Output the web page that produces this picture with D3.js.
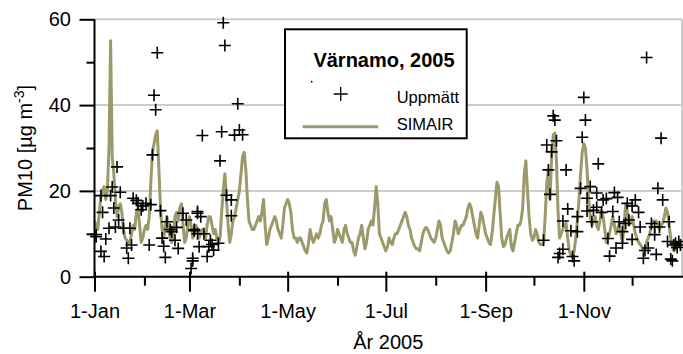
<!DOCTYPE html>
<html>
<head>
<meta charset="utf-8">
<script src="https://cdn.jsdelivr.net/npm/d3@7/dist/d3.min.js"></script>
<style>
  html, body { margin: 0; padding: 0; background: #fff; }
  svg { display: block; font-family: Arial, "Liberation Sans", sans-serif; }
</style>
</head>
<body>
<svg id="chart" width="683" height="354"></svg>
<script>
// ---------- DATA ----------
const chartTitle = "Värnamo, 2005";
const seriesNames = ["Uppmätt", "SIMAIR"];
const yTickValues = [0, 20, 40, 60];
const yMinorTicks = [10, 30, 50];
const xMajorMonths = [0, 2, 4, 6, 8, 10];      // 1-Jan, 1-Mar, ...
const xMinorMonths = [1, 3, 5, 7, 9, 11];
const xTickFormat = "%-d-%b";
const xTitle = "År 2005";

// SIMAIR modelled daily PM10, day 0 = 1 Jan 2005 (365 values)
const simairValues = [
  13,12,11,15,19,20,21,18,20,30,55,28,24,18,14,16,17,15,11,9,
  8.5,8,8,10,12,11,15,16,12,8,9,11,12,11,14,22,29,31,33,34,
  25,16,11,9,12,14,11,9,8,10,14,15,13,16,17,12,8,9,12,14,
  12,9,10,12,11,9,10,11,10,9,12,14,14,12,10,11,9,8,9,15,
  20,24,18,12,8,10,13,14,16,18,20,24,28,29,25,18,13,12,11,11,
  12,13,14,13,15,18,12,7.5,9,11,12,13,14,13,11,10,9,12,16,17,
  18,17,15,11,9,9,8,9,9,8,7,6,5.5,8,11,9,8,9,10,9,
  10,12,13,17,18,15,13,14,11,8,9,11,10,9,8,11,12,10,9,8,
  8,6,5,7,9,10,12,9,6.5,8,11,12,13,12,16,21,17,10,9,8,
  7,6,7,9,8,7.5,9,10,10,11,12,13,14,15,14,12,11,9,8,7,
  6.5,6.5,6,8,10,11,11.5,11,10,9,8.5,8,9,11,13,12,9,8,7,6,
  5.5,6,8,10,13,12,10,11,12,12,13,14,16,17,16,14,12,10,9,12,
  15,14,12,10,9,8,7.5,10,14,18,22,21,15,9,7,7.5,9,10,11,7,
  6,8,10,12,12,13,16,24,27,20,14,10,8.5,9,11,10,8,7.5,7.5,8,
  14,22,25,18,28,33,33.5,27,15,9,10,11,12,12.5,9,6,5,4.5,6,9,
  13,18,24,29,31,30,25,18,14,12,13,14,12,11,13,15.5,14,11,8,9,
  10,12,14,12,10,11,12.5,10,8,12,17,15,12,13,14,12,10,9,8,7.5,
  7,6,6.5,8,9,10,12,13,13,13,12,11,12,12.5,14,16,15,12,9,7,
  6,6.5,7.5,8,7
];

// Measured (Uppmätt) PM10: day of year and value
const measuredDays = [
  1,1,4,6,7,9,14,11,4,10,16,12,5,15,13,18,22,20,23,21,
  24,26,27,29,30,32,35,34,41,36,38,37,39,42,43,45,47,48,50,52,
  51,55,57,62,64,44,60,61,
  80,81,89,67,79,87,90,92,78,82,85,85,64,66,62,64,68,61,65,70,
  71,72,73,74,77,
  343,304,285,286,305,303,352,281,284,287,313,282,293,350,302,308,283,353,306,312,
  323,325,316,318,336,294,306,310,312,315,322,331,334,338,291,300,309,326,330,332,
  346,357,296,300,328,339,348,351,279,319,334,328,356,363,348,324,344,349,342,291,
  289,288,297,298,320,341,358,359,360,361,364,362
];
const measuredValues = [
  9.3,9.8,5.9,4.7,8.8,11.3,25.6,20.9,18.9,18.9,19.7,16.0,15.0,13.2,11.6,11.3,11.3,6.7,7.4,4.3,
  18.3,17.8,17.1,15.6,16.5,17.1,16.8,7.4,15.4,28.4,38.9,42.3,52.2,9.0,7.1,12.8,11.0,10.5,8.5,6.6,
  11.5,14.8,13.2,11.0,14.8,4.5,1.9,3.7,
  59.2,53.9,40.3,32.9,33.8,33.0,34.2,33.1,27.0,19.0,17.9,14.2,15.2,14.0,10.7,10.0,10.0,4.3,7.0,4.7,
  7.0,8.5,7.5,6.2,7.8,
  51.1,41.8,37.5,36.5,36.5,32.5,32.3,30.7,29.1,31.7,26.3,24.9,24.9,20.6,20.6,21.0,19.2,17.9,18.3,19.5,
  19.6,18.5,17.9,18.2,17.9,15.8,15.3,15.5,16.2,15.0,15.2,17.1,16.5,15.0,13.0,14.0,12.8,12.8,12.4,13.2,
  12.4,12.8,10.7,10.5,10.5,11.6,11.6,11.6,8.5,8.9,8.7,7.8,8.2,8.2,9.8,6.7,6.7,5.2,6.1,6.4,
  5.4,4.5,4.7,3.7,4.8,4.3,4.1,3.7,7.4,7.8,7.4,6.8
];

// ---------- CHART ----------
(function () {
const svg = d3.select("#chart");
const pLeft = 94.5, pRight = 682, pTop = 19.3, pBottom = 276.7;
const start = new Date(2005, 0, 1), end = new Date(2006, 0, 1);
const dayDate = d => d3.timeDay.offset(start, d);

const x = d3.scaleTime().domain([start, end]).range([pLeft, pRight]);
const y = d3.scaleLinear().domain([0, 60]).range([pBottom, pTop]);

const gridColor = "#cdcdcd";
const lineColor = "#9c9a6a";
const fontFam = "Arial, 'Liberation Sans', sans-serif";

// gridlines
svg.append("g").selectAll("line").data([20, 40, 60]).join("line")
  .attr("x1", pLeft).attr("x2", pRight)
  .attr("y1", d => y(d)).attr("y2", d => y(d))
  .attr("stroke", gridColor).attr("stroke-width", 2);
// right frame
svg.append("line").attr("x1", pRight).attr("x2", pRight)
  .attr("y1", pTop).attr("y2", pBottom)
  .attr("stroke", gridColor).attr("stroke-width", 2);

// SIMAIR line
const line = d3.line()
  .x((d, i) => x(dayDate(i)))
  .y(d => y(d));
svg.append("path").datum(simairValues)
  .attr("d", line)
  .attr("fill", "none")
  .attr("stroke", lineColor)
  .attr("stroke-width", 3)
  .attr("stroke-linejoin", "round");

// measured points as "+"
const pts = measuredDays.map((d, i) => ({ d, v: measuredValues[i] }));
const cs = 6;
svg.append("g").selectAll("path").data(pts).join("path")
  .attr("d", p => {
    const px = x(dayDate(p.d)), py = y(p.v);
    return `M${px - cs},${py}H${px + cs}M${px},${py - cs}V${py + cs}`;
  })
  .attr("stroke", "#000").attr("stroke-width", 1.6).attr("fill", "none");

// Y axis
const yAxis = d3.axisLeft(y).tickValues(yTickValues).tickSize(15).tickPadding(8);
const gy = svg.append("g").attr("transform", `translate(${pLeft},0)`).call(yAxis);
gy.select(".domain").remove();
gy.selectAll(".tick line").attr("stroke", "#000").attr("stroke-width", 2);
gy.selectAll(".tick text").attr("font-size", 20).attr("fill", "#000")
  .attr("font-family", fontFam).attr("x", -23.5);
const yAxisMinor = d3.axisLeft(y).tickValues(yMinorTicks).tickSize(8).tickFormat("");
const gym = svg.append("g").attr("transform", `translate(${pLeft},0)`).call(yAxisMinor);
gym.select(".domain").remove();
gym.selectAll(".tick line").attr("stroke", "#000").attr("stroke-width", 2);
svg.append("line").attr("x1", pLeft).attr("x2", pLeft)
  .attr("y1", pTop).attr("y2", pBottom + 1)
  .attr("stroke", "#000").attr("stroke-width", 2);

// X axis
const majorDates = xMajorMonths.map(m => new Date(2005, m, 1));
const minorDates = xMinorMonths.map(m => new Date(2005, m, 1));
const xAxis = d3.axisBottom(x).tickValues(majorDates).tickSize(15)
  .tickFormat(d3.timeFormat(xTickFormat));
const gx = svg.append("g").attr("transform", `translate(0,${pBottom})`).call(xAxis);
gx.select(".domain").remove();
gx.selectAll(".tick line").attr("stroke", "#000").attr("stroke-width", 2).attr("y1", -5);
gx.selectAll(".tick text").attr("font-size", 20).attr("fill", "#000")
  .attr("font-family", fontFam).attr("y", 41).attr("dy", 0);
const xAxisMinor = d3.axisBottom(x).tickValues(minorDates).tickSize(9).tickFormat("");
const gxm = svg.append("g").attr("transform", `translate(0,${pBottom})`).call(xAxisMinor);
gxm.select(".domain").remove();
gxm.selectAll(".tick line").attr("stroke", "#000").attr("stroke-width", 2);
svg.append("line").attr("x1", pLeft - 1).attr("x2", pRight + 1)
  .attr("y1", pBottom).attr("y2", pBottom)
  .attr("stroke", "#000").attr("stroke-width", 2);

// axis titles
svg.append("text").attr("x", (pLeft + pRight) / 2).attr("y", 349)
  .attr("text-anchor", "middle").attr("font-size", 20).text(xTitle);
const yl = svg.append("text")
  .attr("transform", `translate(31.5,${(pTop + pBottom) / 2}) rotate(-90)`)
  .attr("text-anchor", "middle").attr("font-size", 20);
yl.append("tspan").text("PM10 [µg m");
yl.append("tspan").attr("dy", -8).attr("font-size", 14).text("-3");
yl.append("tspan").attr("dy", 8).text("]");

// legend
const lg = svg.append("g");
lg.append("rect").attr("x", 285).attr("y", 29.3).attr("width", 181.7).attr("height", 109)
  .attr("fill", "#fff").attr("stroke", "#000").attr("stroke-width", 2);
lg.append("text").attr("x", 384).attr("y", 66.7).attr("text-anchor", "middle")
  .attr("font-size", 20).attr("font-weight", "bold").text(chartTitle);
lg.append("circle").attr("cx", 311.7).attr("cy", 81.7).attr("r", 0.9).attr("fill", "#000");
lg.append("path").attr("d", `M${340.7 - 7},94H${340.7 + 7}M340.7,${94 - 7}V${94 + 7}`)
  .attr("stroke", "#000").attr("stroke-width", 1.3);
lg.append("text").attr("x", 396.7).attr("y", 103.3).attr("font-size", 16.5).text(seriesNames[0]);
lg.append("line").attr("x1", 302.7).attr("x2", 378.3).attr("y1", 126.7).attr("y2", 126.7)
  .attr("stroke", lineColor).attr("stroke-width", 3);
lg.append("text").attr("x", 396.7).attr("y", 130).attr("font-size", 16.5).text(seriesNames[1]);
})();
</script>
</body>
</html>
